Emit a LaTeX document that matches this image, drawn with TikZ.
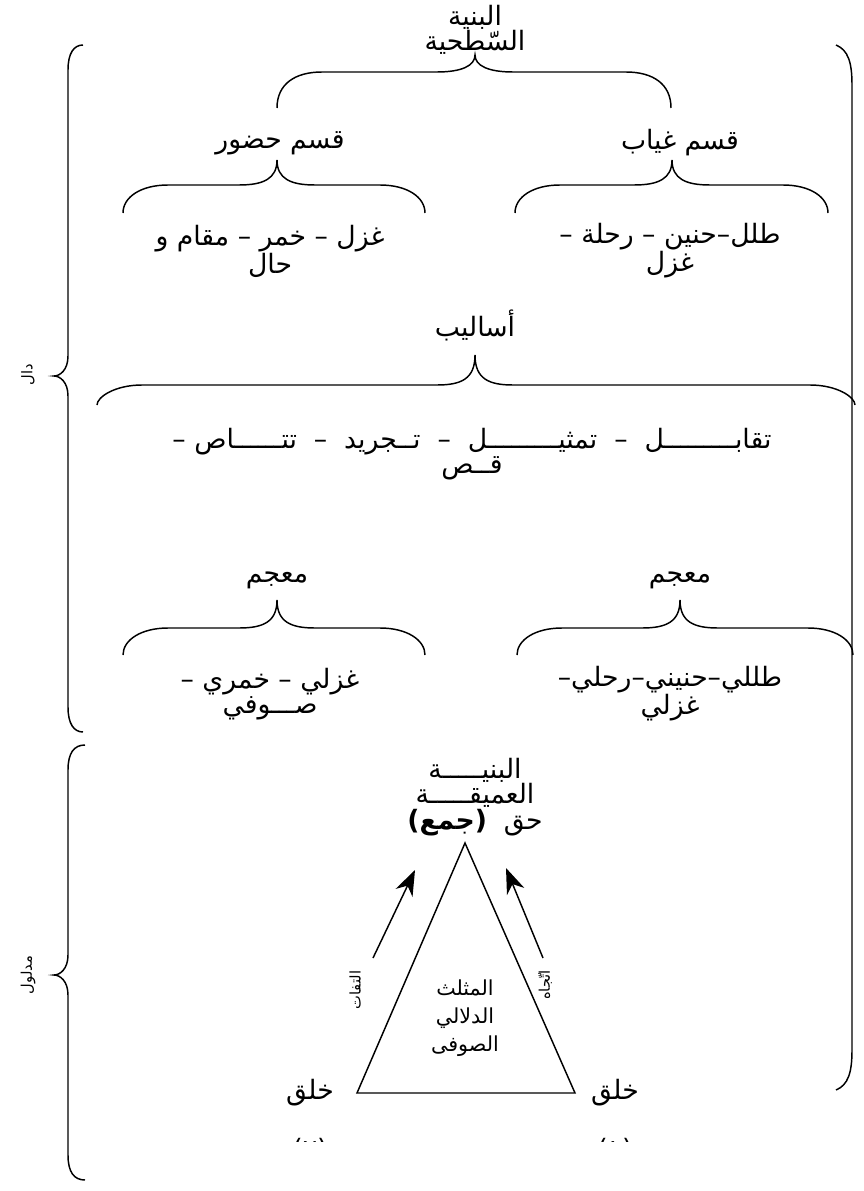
\documentclass[tikz,border=0pt]{standalone}
\usepackage{fontspec}
\usepackage{tikz}
\usetikzlibrary{arrows.meta}
\newfontfamily\arabicfont[Script=Arabic]{DejaVu Sans}
\TeXXeTstate=1

% brace opening downwards: left x, right x, tip x, end y, middle y, tip y
\newcommand{\hbrace}[6]{%
  \draw[brace] (#1,#4) .. controls (#1,{#5+12}) and ({#1+18},#5) .. ({#1+45},#5)
    -- ({#3-38},#5) .. controls ({#3-14},#5) and (#3,{#5-6}) .. (#3,#6)
    .. controls (#3,{#5-6}) and ({#3+14},#5) .. ({#3+38},#5)
    -- ({#2-45},#5) .. controls ({#2-18},#5) and (#2,{#5+12}) .. (#2,#4);}
% brace opening to the right: top y, bottom y, tip y, end x, line x, tip x
\newcommand{\vbrace}[6]{%
  \draw[brace] (#4,#1) .. controls ({#5+6},#1) and (#5,{#1+8}) .. (#5,{#1+25})
    -- (#5,{#3-20}) .. controls (#5,{#3-6}) and ({#5-8},#3) .. (#6,#3)
    .. controls ({#5-8},#3) and (#5,{#3+6}) .. (#5,{#3+20})
    -- (#5,{#2-25}) .. controls (#5,{#2-8}) and ({#5+6},#2) .. (#4,#2);}

\begin{document}
\begin{tikzpicture}[x=0.75pt,y=-0.75pt]
    \tikzset{brace/.style={line width=1.1pt}}
    \tikzset{lbl/.style={font=\arabicfont\fontsize{20}{17}\selectfont,align=center,inner sep=0pt}}
    \tikzset{mid/.style={font=\arabicfont\fontsize{15.5}{21}\selectfont,align=center,inner sep=0pt}}
    \tikzset{tiny/.style={font=\arabicfont\fontsize{11}{12}\selectfont,inner sep=0pt,rotate=90}}
    \tikzset{up/.style={line width=1.1pt,-{Stealth[length=19pt,width=14pt,inset=6pt]}}}

    \useasboundingbox (0,0) rectangle (863,1191);

    % surface structure
    \node [lbl] (surface) at (475,30) {\beginR البنية\endR\\\beginR السّطحية\endR};
    \hbrace{277}{671}{475}{108}{72}{55}

    \node [lbl] (presence) at (280,143) {\beginR قسم حضور\endR};
    \node [lbl] (absence) at (680,143) {\beginR قسم غياب\endR};
    \hbrace{123}{425}{277}{213}{185}{160}
    \hbrace{515}{828}{672}{213}{185}{160}

    \node [lbl] (presenceitems) at (270,251) {\beginR غزل – خمر – مقام و\endR\\\beginR حال\endR};
    \node [lbl] (absenceitems) at (670,251) {\beginR طلل–حنين – رحلة –\endR\\\beginR غزل\endR};

    % styles
    \node [lbl] (styles) at (475,325) {\beginR أساليب\endR};
    \hbrace{97}{855}{475}{405}{385}{355}
    \node [lbl] (styleitems) at (472,454) {\beginR تقابـــــــــل \ – \ تمثيـــــــــل \ – \ تــجريد \ – \ تتــــــاص –\endR\\\beginR قــص\endR};

    % lexicon
    \node [lbl] (lexleft) at (277,580) {\beginR معجم\endR};
    \node [lbl] (lexright) at (680,580) {\beginR معجم\endR};
    \hbrace{123}{425}{277}{655}{628}{600}
    \hbrace{517}{853}{680}{655}{628}{600}
    \node [lbl] (lexleftitems) at (270,694) {\beginR غزلي – خمري –\endR\\\beginR صـــوفي\endR};
    \node [lbl] (lexrightitems) at (670,694) {\beginR طللي–حنيني–رحلي–\endR\\\beginR غزلي\endR};

    % deep structure
    \node [lbl] (deep) at (475,797) {\beginR البنيـــــة\endR\\\beginR العميقـــــة\endR\\\beginR حق \ {\bfseries (جمع)}\endR};

    \coordinate (apex) at (465,843);
    \coordinate (left) at (357,1093);
    \coordinate (right) at (575,1093);
    \draw [line width=1.1pt] (apex) -- (left) -- (right) -- cycle;
    \node [mid] (triangle) at (465,1018) {\beginR المثلث\endR\\\beginR الدلالي\endR\\\beginR الصوفى\endR};

    \coordinate (la) at (373,958);
    \coordinate (lb) at (415,870);
    \coordinate (ra) at (543,958);
    \coordinate (rb) at (506,868);
    \draw [up] (la) -- (lb);
    \draw [up] (ra) -- (rb);
    \node [tiny] (turn) at (355,990) {\beginR التفات\endR};
    \node [tiny] (dir) at (545,985) {\beginR اتّجاه\endR};

    \node [lbl] (creationl) at (310,1093) {\beginR خلق\endR};
    \node [lbl] (creationr) at (615,1093) {\beginR خلق\endR};
    \begin{scope}
      \clip (0,0) rectangle (863,1141);
      \node [lbl] (numl) at (310,1150) {\beginR (٢)\endR};
      \node [lbl] (numr) at (615,1150) {\beginR (١)\endR};
    \end{scope}

    % signifier / signified
    \vbrace{45}{732}{376}{83}{68}{54}
    \vbrace{745}{1180}{975}{85}{68}{54}
    \node [tiny] (signifier) at (28,375) {\beginR دال\endR};
    \node [tiny] (signified) at (28,975) {\beginR مدلول\endR};

    \draw [brace] (836,45) .. controls (848,50) and (852,62) .. (852,85)
        -- (852,1050) .. controls (852,1073) and (848,1085) .. (836,1090);
\end{tikzpicture}
\end{document}
